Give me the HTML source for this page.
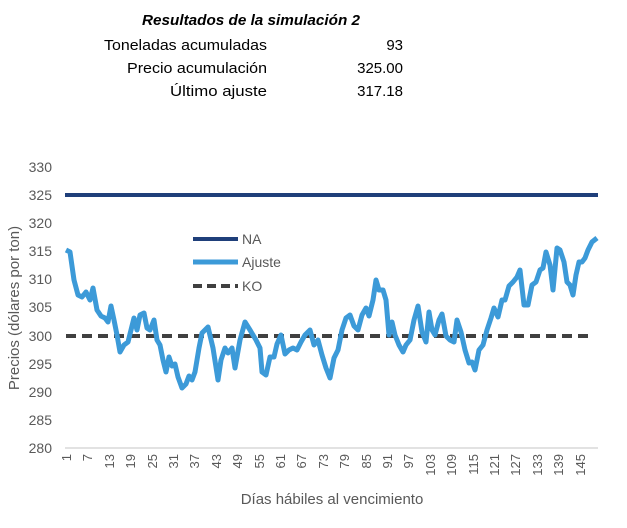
<!DOCTYPE html>
<html><head><meta charset="utf-8"><style>body{margin:0;background:#fff}svg{display:block}</style></head><body>
<svg width="627" height="528" viewBox="0 0 627 528" xmlns="http://www.w3.org/2000/svg" font-family="Liberation Sans, sans-serif">
<rect width="627" height="528" fill="#fff"/>
<g font-size="15" fill="#000">
<text x="251" y="25" text-anchor="middle" font-weight="bold" font-style="italic" textLength="218" lengthAdjust="spacingAndGlyphs">Resultados de la simulación 2</text>
<text x="267" y="50" text-anchor="end" textLength="163" lengthAdjust="spacingAndGlyphs">Toneladas acumuladas</text>
<text x="267" y="73" text-anchor="end" textLength="140" lengthAdjust="spacingAndGlyphs">Precio acumulación</text>
<text x="267" y="96" text-anchor="end" textLength="97" lengthAdjust="spacingAndGlyphs">Último ajuste</text>
<text x="403" y="50" text-anchor="end">93</text>
<text x="403" y="73" text-anchor="end">325.00</text>
<text x="403" y="96" text-anchor="end">317.18</text>
</g>
<g font-size="14" fill="#595959" text-anchor="end">
<text x="52" y="172">330</text><text x="52" y="200">325</text><text x="52" y="228">320</text><text x="52" y="256">315</text><text x="52" y="284">310</text><text x="52" y="312">305</text><text x="52" y="341">300</text><text x="52" y="369">295</text><text x="52" y="397">290</text><text x="52" y="425">285</text><text x="52" y="453">280</text>
</g>
<line x1="65" y1="448" x2="598" y2="448" stroke="#d9d9d9" stroke-width="1.5"/>
<g font-size="13" fill="#595959" text-anchor="end">
<text transform="translate(71,454) rotate(-90)">1</text><text transform="translate(92,454) rotate(-90)">7</text><text transform="translate(114,454) rotate(-90)">13</text><text transform="translate(135,454) rotate(-90)">19</text><text transform="translate(157,454) rotate(-90)">25</text><text transform="translate(178,454) rotate(-90)">31</text><text transform="translate(199,454) rotate(-90)">37</text><text transform="translate(221,454) rotate(-90)">43</text><text transform="translate(242,454) rotate(-90)">49</text><text transform="translate(264,454) rotate(-90)">55</text><text transform="translate(285,454) rotate(-90)">61</text><text transform="translate(306,454) rotate(-90)">67</text><text transform="translate(328,454) rotate(-90)">73</text><text transform="translate(349,454) rotate(-90)">79</text><text transform="translate(371,454) rotate(-90)">85</text><text transform="translate(392,454) rotate(-90)">91</text><text transform="translate(413,454) rotate(-90)">97</text><text transform="translate(435,454) rotate(-90)">103</text><text transform="translate(456,454) rotate(-90)">109</text><text transform="translate(478,454) rotate(-90)">115</text><text transform="translate(499,454) rotate(-90)">121</text><text transform="translate(520,454) rotate(-90)">127</text><text transform="translate(542,454) rotate(-90)">133</text><text transform="translate(563,454) rotate(-90)">139</text><text transform="translate(585,454) rotate(-90)">145</text>
</g>
<text x="332" y="504" font-size="15" fill="#595959" text-anchor="middle">Días hábiles al vencimiento</text>
<text transform="translate(19,308) rotate(-90)" font-size="15" fill="#595959" text-anchor="middle">Precios (dólares por ton)</text>
<line x1="65" y1="195" x2="598" y2="195" stroke="#1f3f7a" stroke-width="4"/>
<line x1="66" y1="336" x2="590" y2="336" stroke="#404040" stroke-width="4" stroke-dasharray="10,6"/>
<polyline fill="none" stroke="#3c9ad8" stroke-width="5" stroke-linejoin="round" points="66,250 70,252 74,280 78,295 82,297 86,292 90,300 93,288 97,310 101,316 105,318 108,322 111,306 114,320 117,335 120,352 124,345 128,342 131,330 134,318 137,330 140,315 144,313 147,328 150,330 154,320 157,340 160,345 163,360 166,372 169,357 172,366 175,364 178,377 182,388 186,384 189,376 192,380 195,372 199,348 202,333 208,327 213,348 218,380 221,360 225,348 228,353 232,348 235,368 240,340 245,322 250,330 256,340 260,348 262,372 266,375 270,357 274,357 277,344 281,335 285,354 289,350 293,348 297,350 301,342 305,335 310,330 314,345 318,340 322,355 326,368 330,378 334,358 338,350 342,330 346,318 350,315 354,326 358,330 362,315 366,308 369,316 373,300 376,280 379,290 383,290 386,300 389,335 392,322 395,335 399,345 403,352 406,345 410,340 414,320 418,306 422,332 426,342 429,312 432,330 435,335 439,320 442,314 446,336 450,340 454,342 457,320 461,332 465,350 469,363 472,362 475,370 479,350 483,345 487,330 491,318 494,308 498,317 502,300 505,300 509,286 513,282 517,277 520,270 524,305 528,305 532,285 536,282 540,270 543,268 546,252 550,265 553,290 557,248 560,250 564,262 567,282 570,285 573,295 576,275 579,262 582,262 585,258 588,250 592,242 597,238"/>
<line x1="193" y1="239" x2="238" y2="239" stroke="#1f3f7a" stroke-width="4"/>
<line x1="193" y1="262" x2="238" y2="262" stroke="#3c9ad8" stroke-width="5"/>
<line x1="193" y1="286" x2="238" y2="286" stroke="#404040" stroke-width="4" stroke-dasharray="9,5"/>
<g font-size="14" fill="#595959"><text x="242" y="244">NA</text><text x="242" y="267">Ajuste</text><text x="242" y="291">KO</text></g>
</svg>
</body></html>
